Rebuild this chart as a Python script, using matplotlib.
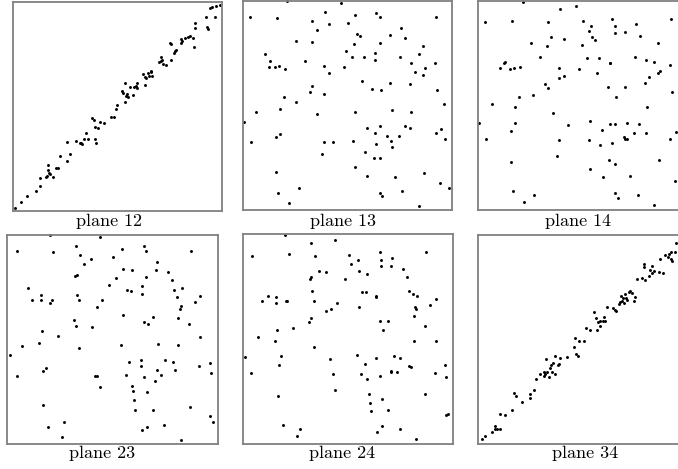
import numpy as np
import matplotlib
matplotlib.use("Agg")
import matplotlib.pyplot as plt

# point positions, per panel, in raw reading units
# (x to the right, y measured downward from the top of the panel frame)
plane12 = np.array([
    (20, 625), (38, 605), (57, 588), (85, 573), (97, 558), (97, 533), (113, 530),
    (120, 495), (120, 510), (123, 520), (117, 527), (127, 523), (135, 530), (143, 505),
    (150, 505), (155, 468), (177, 482), (185, 462), (178, 426), (203, 423), (217, 430),
    (222, 433), (220, 428), (227, 418), (235, 400), (240, 418), (262, 418), (263, 430),
    (252, 355), (258, 360), (260, 380), (270, 383), (275, 367), (287, 370), (310, 352),
    (318, 350), (325, 327), (328, 315), (343, 272), (345, 278), (350, 305), (352, 250),
    (355, 288), (358, 282), (360, 290), (367, 260), (375, 285), (378, 262), (383, 258),
    (388, 248), (388, 265), (410, 255), (405, 222), (410, 230), (415, 233), (420, 218),
    (423, 228), (428, 215), (430, 212), (433, 228), (452, 187), (458, 183), (460, 170),
    (462, 180), (465, 193), (475, 195), (490, 180), (485, 128), (490, 133), (497, 160),
    (500, 153), (503, 150), (518, 118), (520, 130), (523, 122), (530, 113), (540, 110),
    (545, 108), (555, 113), (557, 140), (560, 85), (562, 70), (595, 50), (597, 80),
    (600, 87), (620, 52), (605, 23), (612, 22), (625, 18), (635, 15),
])

plane13 = np.array([
    (148, 3), (308, 10), (37, 50), (118, 53), (262, 37), (415, 38), (427, 50), (352, 45),
    (593, 50), (223, 63), (272, 73), (330, 68), (237, 90), (490, 85), (357, 103), (367, 108),
    (457, 105), (500, 115), (175, 122), (222, 127), (347, 132), (427, 128), (555, 137),
    (82, 162), (325, 152), (410, 158), (343, 170), (378, 172), (487, 170), (542, 162),
    (95, 182), (200, 182), (412, 180), (93, 200), (112, 200), (122, 197), (140, 208),
    (258, 198), (318, 200), (520, 190), (590, 188), (560, 205), (530, 215), (555, 225),
    (272, 220), (373, 243), (457, 250), (223, 258), (215, 275), (258, 282), (403, 267),
    (428, 270), (517, 253), (597, 270), (137, 292), (175, 307), (618, 312), (125, 327),
    (55, 337), (238, 342), (352, 335), (462, 330), (518, 335), (17, 365), (388, 385),
    (427, 378), (410, 398), (500, 378), (517, 385), (610, 388), (593, 398), (125, 403),
    (115, 410), (448, 408), (482, 408), (38, 427), (257, 425), (285, 427), (345, 423),
    (415, 432), (458, 423), (462, 440), (620, 418), (252, 462), (380, 457), (408, 473),
    (427, 473), (352, 500), (115, 515), (388, 527), (470, 530), (557, 520), (605, 548),
    (633, 565), (183, 565), (120, 580), (427, 580), (433, 588), (493, 573), (153, 610),
    (542, 618),
])

plane14 = np.array([
    (153, 5), (265, 28), (313, 18), (40, 67), (120, 62), (227, 67), (333, 63), (420, 57),
    (428, 77), (492, 73), (597, 57), (358, 78), (350, 92), (428, 100), (458, 97), (505, 107),
    (238, 112), (275, 117), (360, 112), (370, 120), (178, 130), (225, 137), (330, 135),
    (558, 130), (205, 172), (345, 175), (380, 175), (490, 172), (522, 180), (545, 185),
    (98, 185), (97, 190), (85, 203), (115, 208), (125, 203), (143, 200), (262, 203),
    (415, 188), (413, 190), (593, 195), (320, 208), (563, 213), (558, 220), (532, 230),
    (375, 220), (275, 227), (262, 233), (520, 248), (218, 253), (228, 265), (407, 262),
    (460, 262), (182, 285), (140, 290), (432, 290), (600, 277), (60, 312), (128, 322),
    (525, 322), (242, 340), (22, 370), (128, 368), (287, 375), (355, 362), (413, 373),
    (428, 373), (465, 368), (502, 373), (118, 393), (390, 390), (487, 400), (522, 398),
    (613, 395), (42, 418), (260, 421), (350, 421), (383, 436), (420, 428), (455, 412),
    (460, 417), (465, 418), (595, 418), (255, 468), (118, 487), (410, 480), (428, 493),
    (560, 480), (355, 507), (393, 530), (475, 527), (608, 542), (123, 573), (187, 585),
    (155, 605), (428, 578), (437, 595), (497, 585), (545, 615), (620, 322),
])

plane23 = np.array([
    (150, 20), (300, 28), (52, 68), (160, 72), (227, 53), (433, 53), (438, 68), (365, 63),
    (572, 68), (240, 82), (272, 92), (252, 107), (338, 87), (472, 102), (467, 125),
    (368, 122), (397, 127), (505, 132), (230, 140), (225, 145), (348, 150), (438, 147),
    (515, 155), (328, 170), (425, 175), (83, 180), (380, 187), (393, 190), (425, 197),
    (522, 187), (545, 180), (123, 200), (232, 200), (95, 217), (123, 217), (155, 215),
    (150, 225), (237, 215), (305, 217), (530, 207), (600, 205), (585, 222), (543, 233),
    (540, 243), (290, 238), (370, 262), (458, 268), (433, 283), (443, 288), (535, 270),
    (568, 288), (222, 275), (228, 295), (275, 298), (125, 308), (173, 323), (600, 328),
    (117, 345), (67, 353), (237, 360), (363, 352), (475, 347), (533, 352), (30, 382),
    (387, 402), (423, 395), (423, 415), (495, 395), (520, 402), (630, 405), (598, 415),
    (138, 420), (130, 428), (470, 425), (525, 425), (50, 443), (285, 443), (292, 443),
    (378, 440), (432, 448), (482, 440), (633, 435), (466, 458), (300, 478), (395, 473),
    (400, 490), (442, 492), (403, 517), (128, 532), (406, 545), (458, 547), (570, 537),
    (630, 565), (638, 582), (193, 582), (143, 598), (427, 605), (442, 598), (493, 590),
    (185, 628), (542, 635),
])

plane24 = np.array([
    (142, 22), (290, 35), (218, 45), (43, 83), (152, 78), (230, 83), (425, 72), (430, 95),
    (462, 90), (332, 80), (360, 95), (340, 108), (430, 115), (460, 113), (565, 73),
    (243, 130), (263, 133), (362, 130), (388, 137), (495, 123), (507, 147), (220, 147),
    (215, 153), (320, 152), (222, 190), (372, 192), (385, 192), (415, 205), (415, 208),
    (512, 190), (525, 197), (537, 203), (90, 203), (73, 220), (113, 208), (113, 225),
    (143, 218), (148, 220), (228, 220), (297, 225), (280, 243), (265, 250), (362, 238),
    (530, 237), (533, 243), (577, 230), (593, 213), (528, 265), (218, 270), (213, 282),
    (425, 278), (450, 278), (435, 307), (560, 294), (165, 300), (117, 307), (60, 328),
    (110, 340), (527, 340), (593, 340), (228, 357), (20, 387), (130, 385), (122, 410),
    (277, 393), (357, 380), (415, 390), (468, 385), (487, 390), (380, 408), (512, 415),
    (518, 418), (622, 412), (40, 435), (285, 438), (370, 438), (425, 445), (458, 433),
    (460, 430), (477, 433), (388, 453), (590, 435), (625, 448), (290, 487), (120, 505),
    (393, 497), (432, 512), (562, 497), (395, 525), (398, 548), (450, 545), (623, 560),
    (630, 558), (135, 590), (185, 603), (177, 623), (418, 612), (433, 595), (487, 603),
    (535, 633),
])

plane34 = np.array([
    (30, 633), (38, 623), (60, 612), (68, 593), (70, 603), (75, 603), (83, 603), (83, 557),
    (100, 560), (120, 545), (127, 495), (133, 503), (150, 523), (173, 510), (175, 497),
    (185, 487), (192, 453), (205, 437), (215, 433), (217, 443), (220, 438), (222, 393),
    (225, 432), (230, 448), (235, 420), (237, 410), (240, 433), (242, 405), (248, 385),
    (250, 437), (258, 412), (262, 408), (265, 390), (285, 388), (305, 357), (310, 330),
    (312, 378), (318, 385), (320, 340), (335, 340), (342, 300), (355, 307), (367, 252),
    (372, 270), (375, 305), (378, 283), (383, 280), (385, 295), (392, 280), (395, 267),
    (398, 278), (405, 238), (423, 240), (428, 245), (432, 248), (440, 227), (445, 222),
    (447, 205), (450, 218), (453, 210), (455, 225), (460, 197), (462, 210), (465, 215),
    (470, 192), (475, 190), (480, 195), (485, 220), (488, 207), (495, 152), (510, 150),
    (515, 108), (517, 118), (520, 155), (530, 145), (535, 125), (540, 113), (540, 135),
    (545, 130), (560, 133), (572, 135), (565, 92), (580, 82), (588, 88), (592, 78),
    (596, 92), (598, 73), (600, 98), (610, 73), (613, 45),
])

labels = ["plane 12", "plane 13", "plane 14", "plane 23", "plane 24", "plane 34"]
datasets = [plane12, plane13, plane14, plane23, plane24, plane34]

# frame extents of each panel in reading units: (x0, x1, y_bottom, y_top)
frames = [(15, 643, 632, 5), (14, 642, 630, 3), (18, 648, 630, 3),
          (22, 655, 648, 20), (14, 645, 648, 18), (18, 648, 648, 20)]

# panel boxes in figure pixels: (left, top, right, bottom)
boxes = [(13, 1.7, 222.3, 210.7), (242.7, 1, 452, 210), (478, 1, 688, 210),
         (7.3, 234.7, 218.3, 444), (242.7, 234, 453, 444), (478, 234.7, 688, 444)]
# caption centres in figure pixels (x, y)
captions = [(108.5, 221), (342.5, 221), (578, 221),
            (101.7, 453), (342, 453), (585.5, 453)]

W, H = 678, 469
fig = plt.figure(figsize=(W / 100, H / 100), dpi=100)

for pts, lab, fr, bx, cp in zip(datasets, labels, frames, boxes, captions):
    l, t, r, b = bx
    ax = fig.add_axes([l / W, 1 - b / H, (r - l) / W, (b - t) / H])
    ax.scatter(pts[:, 0], pts[:, 1], s=4.5, c="black", linewidths=0, clip_on=False)
    ax.set_xlim(fr[0], fr[1])
    ax.set_ylim(fr[2], fr[3])
    ax.set_xticks([])
    ax.set_yticks([])
    for sp in ax.spines.values():
        sp.set_color("#808080")
        sp.set_linewidth(1.3)
    fig.text(cp[0] / W, 1 - cp[1] / H, lab, ha="center", va="center",
             fontsize=13, family="cmr10")

fig.savefig("out.png", dpi=100)
